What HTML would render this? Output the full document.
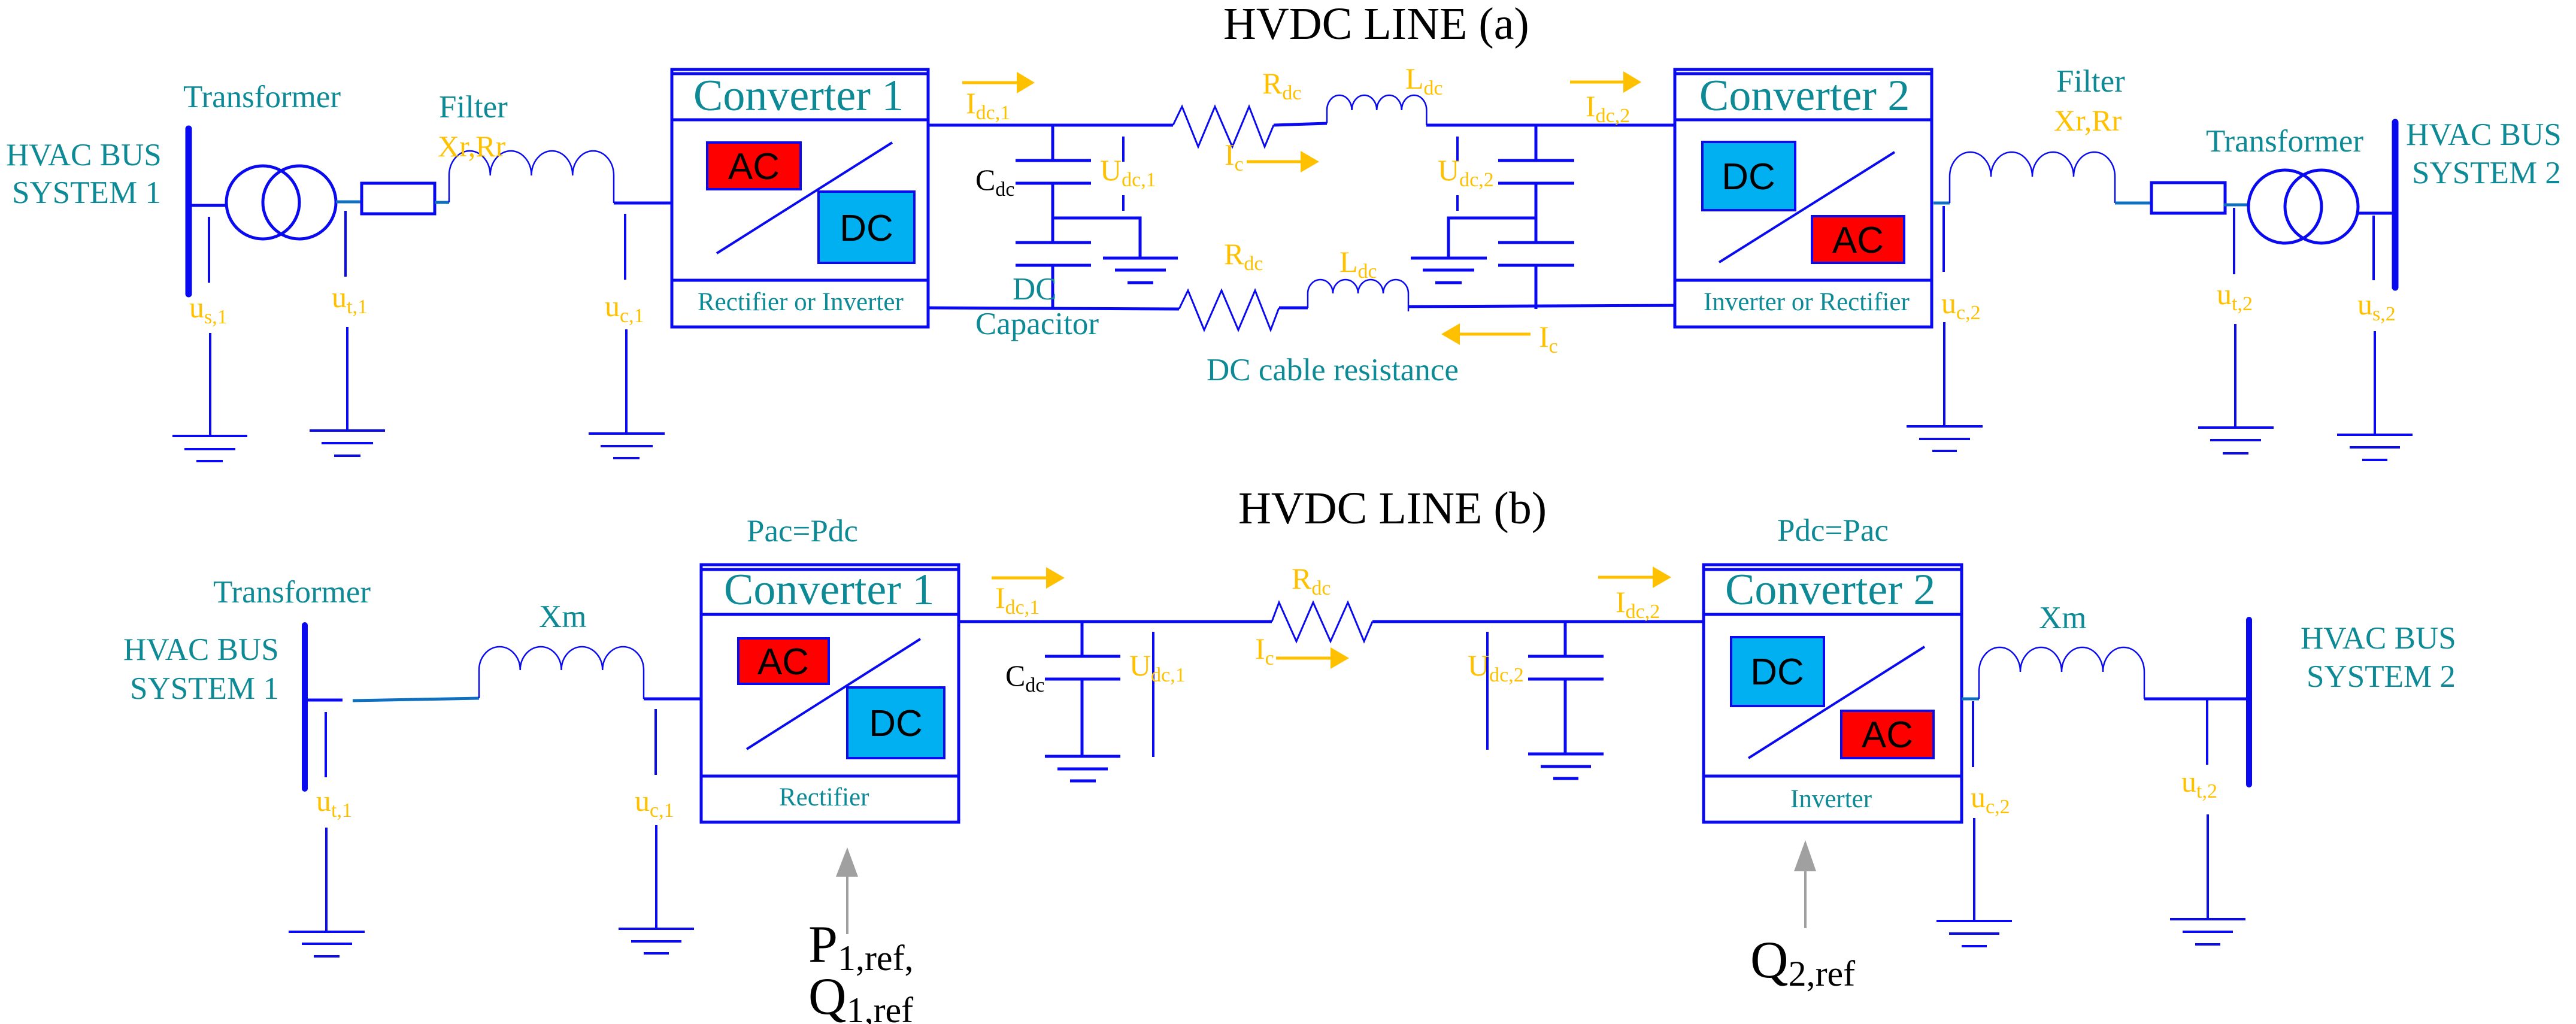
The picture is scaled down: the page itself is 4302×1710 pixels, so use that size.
<!DOCTYPE html>
<html><head><meta charset="utf-8"><style>
html,body{margin:0;padding:0;background:#fff}
svg{display:block}
text{font-family:"Liberation Serif",serif}
.t{fill:#0e8a96;font-size:53px}
.o{fill:#ffc000;font-size:50px}
.k{fill:#000}
.cv{fill:#0e8a96;font-size:74px}
.sm{fill:#0e8a96;font-size:43px}
.ad{font-family:"Liberation Sans",sans-serif;font-size:62px;fill:#000;text-anchor:middle}
.b{stroke:#0a0af0;fill:none}
</style></head><body>
<svg width="4302" height="1710" viewBox="0 0 4302 1710" xmlns="http://www.w3.org/2000/svg">
<g class="b" stroke-width="5">
<!-- ===== (a) left AC side ===== -->
<line x1="315" y1="215" x2="315" y2="491" stroke-width="11" stroke-linecap="round"/>
<line x1="315" y1="343" x2="378" y2="343"/>
<circle cx="439" cy="338" r="61"/><circle cx="500" cy="338" r="61"/>
<line x1="561" y1="337" x2="604" y2="337" stroke="#1070c0"/>
<rect x="604" y="306" width="122" height="51"/>
<line x1="726" y1="338" x2="750" y2="338" stroke="#1070c0"/>
<path d="M750 338 V293 a34.375 41 0 0 1 68.75 0 a34.375 41 0 0 1 68.75 0 a34.375 41 0 0 1 68.75 0 a34.375 41 0 0 1 68.75 0 V339" stroke-width="2.5"/>
<line x1="1025" y1="339" x2="1122" y2="339"/>
<line x1="349" y1="362" x2="349" y2="472" stroke-width="4"/>
<line x1="577" y1="352" x2="577" y2="462" stroke-width="4"/>
<line x1="1044" y1="357" x2="1044" y2="467" stroke-width="4"/>
<!-- grounds -->
<path d="M351 556V728 M288 728H413 M308 750H393 M328 770H372" stroke-width="4"/>
<path d="M580 546V719 M517 719H643 M537 740H623 M558 761H602" stroke-width="4"/>
<path d="M1046 550V724 M983 724H1110 M1003 745H1090 M1024 765H1068" stroke-width="4"/>
<!-- converter 1 (a) -->
<rect x="1122" y="116" width="428" height="430"/>
<line x1="1122" y1="123" x2="1550" y2="123"/>
<line x1="1122" y1="200" x2="1550" y2="200"/>
<line x1="1122" y1="468" x2="1550" y2="468"/>
<line x1="1197" y1="423" x2="1490" y2="238" stroke-width="4"/>
<!-- DC link (a) -->
<line x1="1550" y1="209" x2="1959" y2="209"/>
<polyline points="1959,209 1974,178 2001,245 2029,178 2058,245 2086,178 2112,245 2127,209" stroke-width="3"/>
<line x1="2127" y1="209" x2="2216" y2="206"/>
<path d="M2216 206 V184 a20.8 25 0 0 1 41.6 0 a20.8 25 0 0 1 41.6 0 a20.8 25 0 0 1 41.6 0 a20.8 25 0 0 1 41.6 0 V209" stroke-width="2.5"/>
<line x1="2382" y1="209" x2="2797" y2="209"/>
<line x1="1550" y1="514" x2="1969" y2="516"/>
<polyline points="1969,516 1984,485 2011,551 2040,485 2068,551 2096,485 2122,551 2136,514" stroke-width="3"/>
<line x1="2136" y1="514" x2="2184" y2="514"/>
<path d="M2184 514 V490 a21 23 0 0 1 42 0 a21 23 0 0 1 42 0 a21 23 0 0 1 42 0 a21 23 0 0 1 42 0 V520" stroke-width="2.5"/>
<line x1="2352" y1="512" x2="2797" y2="510"/>
<!-- caps stack 1 -->
<path d="M1758 209V268 M1696 268H1822 M1696 306H1822 M1758 306V405 M1696 405H1822 M1696 443H1822 M1758 443V516 M1758 364H1904V431 M1842 431H1967 M1862 451H1947 M1883 472H1926"/>
<path d="M1876 228V270 M1876 326V352" stroke-width="4"/>
<path d="M2565 209V268 M2502 268H2629 M2502 306H2629 M2565 306V405 M2502 405H2629 M2502 443H2629 M2565 443V516 M2565 364H2419V431 M2356 431H2483 M2376 451H2462 M2397 472H2441"/>
<path d="M2434 228V270 M2434 326V352" stroke-width="4"/>
<!-- converter 2 (a) -->
<rect x="2797" y="116" width="429" height="430"/>
<line x1="2797" y1="123" x2="3226" y2="123"/>
<line x1="2797" y1="200" x2="3226" y2="200"/>
<line x1="2797" y1="468" x2="3226" y2="468"/>
<line x1="2871" y1="438" x2="3164" y2="254" stroke-width="4"/>
<!-- (a) right AC side -->
<line x1="3229" y1="339" x2="3256" y2="339" stroke="#1070c0"/>
<path d="M3256 339 V295 a34.5 41 0 0 1 69 0 a34.5 41 0 0 1 69 0 a34.5 41 0 0 1 69 0 a34.5 41 0 0 1 69 0 V339" stroke-width="2.5"/>
<line x1="3532" y1="339" x2="3593" y2="339" stroke="#1070c0"/>
<rect x="3593" y="305" width="123" height="51"/>
<line x1="3714" y1="342" x2="3755" y2="342" stroke="#1070c0"/>
<circle cx="3816" cy="345" r="61"/><circle cx="3877" cy="345" r="61"/>
<line x1="3938" y1="356" x2="4000" y2="356"/>
<line x1="4000" y1="204" x2="4000" y2="480" stroke-width="11" stroke-linecap="round"/>
<line x1="3246" y1="344" x2="3246" y2="454" stroke-width="4"/>
<line x1="3731" y1="347" x2="3731" y2="458" stroke-width="4"/>
<line x1="3964" y1="360" x2="3964" y2="468" stroke-width="4"/>
<path d="M3247 538V712 M3184 712H3311 M3205 733H3290 M3227 753H3268" stroke-width="4"/>
<path d="M3733 541V714 M3671 714H3797 M3691 735H3776 M3712 757H3755" stroke-width="4"/>
<path d="M3966 553V726 M3903 726H4029 M3924 747H4008 M3945 768H3987" stroke-width="4"/>

<!-- ===== (b) ===== -->
<line x1="509" y1="1044" x2="509" y2="1317" stroke-width="10" stroke-linecap="round"/>
<line x1="509" y1="1169" x2="572" y2="1169"/>
<line x1="589" y1="1170" x2="800" y2="1166" stroke="#1070c0"/>
<path d="M800 1166 V1119 a34.375 39 0 0 1 68.75 0 a34.375 39 0 0 1 68.75 0 a34.375 39 0 0 1 68.75 0 a34.375 39 0 0 1 68.75 0 V1167" stroke-width="2.5"/>
<line x1="1075" y1="1167" x2="1171" y2="1167"/>
<line x1="544" y1="1189" x2="544" y2="1298" stroke-width="4"/>
<line x1="1095" y1="1184" x2="1095" y2="1294" stroke-width="4"/>
<path d="M545 1382V1556 M482 1556H609 M504 1576H588 M524 1597H567" stroke-width="4"/>
<path d="M1096 1378V1551 M1033 1551H1159 M1054 1572H1138 M1075 1592H1117" stroke-width="4"/>
<rect x="1171" y="943" width="430" height="430"/>
<line x1="1171" y1="951" x2="1601" y2="951"/>
<line x1="1171" y1="1026" x2="1601" y2="1026"/>
<line x1="1171" y1="1296" x2="1601" y2="1296"/>
<line x1="1247" y1="1251" x2="1537" y2="1067" stroke-width="4"/>
<line x1="1601" y1="1038" x2="2124" y2="1038"/>
<polyline points="2124,1038 2136,1006 2165,1071 2193,1006 2222,1071 2251,1006 2278,1071 2292,1038" stroke-width="3"/>
<line x1="2292" y1="1038" x2="2845" y2="1038"/>
<path d="M1807 1038V1096 M1745 1096H1871 M1745 1134H1871 M1807 1134V1263 M1745 1263H1871 M1766 1284H1850 M1787 1304H1830"/>
<line x1="1926" y1="1055" x2="1926" y2="1264" stroke-width="4"/>
<path d="M2614 1038V1096 M2552 1096H2678 M2552 1134H2678 M2614 1134V1259 M2552 1259H2678 M2573 1280H2657 M2594 1300H2636"/>
<line x1="2484" y1="1055" x2="2484" y2="1252" stroke-width="4"/>
<rect x="2845" y="943" width="431" height="430"/>
<line x1="2845" y1="951" x2="3276" y2="951"/>
<line x1="2845" y1="1026" x2="3276" y2="1026"/>
<line x1="2845" y1="1296" x2="3276" y2="1296"/>
<line x1="2920" y1="1266" x2="3214" y2="1080" stroke-width="4"/>
<line x1="3276" y1="1167" x2="3305" y2="1167" stroke="#1070c0"/>
<path d="M3305 1167 V1122 a34.5 41 0 0 1 69 0 a34.5 41 0 0 1 69 0 a34.5 41 0 0 1 69 0 a34.5 41 0 0 1 69 0 V1167" stroke-width="2.5"/>
<line x1="3581" y1="1167" x2="3756" y2="1167"/>
<line x1="3756" y1="1035" x2="3756" y2="1310" stroke-width="10" stroke-linecap="round"/>
<line x1="3295" y1="1171" x2="3295" y2="1281" stroke-width="4"/>
<line x1="3686" y1="1167" x2="3686" y2="1277" stroke-width="4"/>
<path d="M3297 1366V1538 M3234 1538H3360 M3255 1559H3339 M3276 1580H3318" stroke-width="4"/>
<path d="M3687 1360V1535 M3624 1535H3750 M3645 1556H3729 M3666 1577H3708" stroke-width="4"/>
</g>
<!-- coloured boxes -->
<g stroke="#0a0af0" stroke-width="4">
<rect x="1181" y="238" width="156" height="78" fill="#ff0000"/>
<rect x="1367" y="320" width="160" height="119" fill="#00b0f0"/>
<rect x="2843" y="237" width="155" height="114" fill="#00b0f0"/>
<rect x="3026" y="361" width="154" height="78" fill="#ff0000"/>
<rect x="1233" y="1066" width="151" height="76" fill="#ff0000"/>
<rect x="1415" y="1148" width="162" height="118" fill="#00b0f0"/>
<rect x="2891" y="1064" width="155" height="115" fill="#00b0f0"/>
<rect x="3075" y="1187" width="154" height="79" fill="#ff0000"/>
</g>
<text class="ad" x="1259" y="299">AC</text>
<text class="ad" x="1447" y="402">DC</text>
<text class="ad" x="2920" y="316">DC</text>
<text class="ad" x="3103" y="422">AC</text>
<text class="ad" x="1308" y="1126">AC</text>
<text class="ad" x="1496" y="1229">DC</text>
<text class="ad" x="2968" y="1143">DC</text>
<text class="ad" x="3152" y="1248">AC</text>
<!-- orange arrows -->
<g stroke="#ffc000" stroke-width="5" fill="#ffc000">
<line x1="1607" y1="138" x2="1705" y2="138"/><polygon points="1698,120 1728,138 1698,156" stroke="none"/>
<line x1="2082" y1="270" x2="2180" y2="270"/><polygon points="2172,252 2203,270 2172,288" stroke="none"/>
<line x1="2622" y1="137" x2="2718" y2="137"/><polygon points="2711,119 2741,137 2711,155" stroke="none"/>
<line x1="2556" y1="558" x2="2430" y2="558"/><polygon points="2438,540 2407,558 2438,576" stroke="none"/>
<line x1="1656" y1="965" x2="1755" y2="965"/><polygon points="1747,947 1778,965 1747,983" stroke="none"/>
<line x1="2131" y1="1099" x2="2230" y2="1099"/><polygon points="2222,1081 2253,1099 2222,1117" stroke="none"/>
<line x1="2669" y1="964" x2="2768" y2="964"/><polygon points="2760,946 2791,964 2760,982" stroke="none"/>
</g>
<!-- gray arrows -->
<g stroke="#a0a0a0" stroke-width="4" fill="#a0a0a0">
<line x1="1415" y1="1560" x2="1415" y2="1460"/><polygon points="1396,1464 1415,1415 1433,1464" stroke="none"/>
<line x1="3015" y1="1550" x2="3015" y2="1450"/><polygon points="2996,1455 3015,1403 3033,1455" stroke="none"/>
</g>
<!-- texts (a) -->
<text class="k" x="2043" y="65" font-size="76">HVDC LINE (a)</text>
<text class="t" x="306" y="179">Transformer</text>
<text class="t" x="10" y="276">HVAC BUS</text>
<text class="t" x="20" y="339">SYSTEM 1</text>
<text class="t" x="733" y="196">Filter</text>
<text class="o" x="731" y="261">Xr,Rr</text>
<text class="cv" x="1158" y="184">Converter 1</text>
<text class="sm" x="1165" y="518">Rectifier or Inverter</text>
<text class="o" x="316" y="530">u<tspan font-size="34" dy="10">s,1</tspan></text>
<text class="o" x="554" y="513">u<tspan font-size="34" dy="10">t,1</tspan></text>
<text class="o" x="1010" y="528">u<tspan font-size="34" dy="10">c,1</tspan></text>
<text class="o" x="1613" y="189">I<tspan font-size="34" dy="10">dc,1</tspan></text>
<text class="o" x="2108" y="156">R<tspan font-size="34" dy="10">dc</tspan></text>
<text class="o" x="2347" y="148">L<tspan font-size="34" dy="10">dc</tspan></text>
<text class="o" x="2045" y="275">I<tspan font-size="34" dy="10">c</tspan></text>
<text class="o" x="1837" y="301">U<tspan font-size="34" dy="10">dc,1</tspan></text>
<text class="k" x="1629" y="317" font-size="50">C<tspan font-size="34" dy="10">dc</tspan></text>
<text class="t" x="1691" y="500">DC</text>
<text class="t" x="1629" y="558">Capacitor</text>
<text class="o" x="2044" y="441">R<tspan font-size="34" dy="10">dc</tspan></text>
<text class="o" x="2237" y="454">L<tspan font-size="34" dy="10">dc</tspan></text>
<text class="o" x="2570" y="579">I<tspan font-size="34" dy="10">c</tspan></text>
<text class="t" x="2015" y="635">DC cable resistance</text>
<text class="o" x="2401" y="301">U<tspan font-size="34" dy="10">dc,2</tspan></text>
<text class="o" x="2648" y="194">I<tspan font-size="34" dy="10">dc,2</tspan></text>
<text class="cv" x="2838" y="184">Converter 2</text>
<text class="sm" x="2845" y="518">Inverter or Rectifier</text>
<text class="t" x="3434" y="153">Filter</text>
<text class="o" x="3430" y="218">Xr,Rr</text>
<text class="t" x="3684" y="253">Transformer</text>
<text class="t" x="4018" y="242">HVAC BUS</text>
<text class="t" x="4028" y="306">SYSTEM 2</text>
<text class="o" x="3242" y="523">u<tspan font-size="34" dy="10">c,2</tspan></text>
<text class="o" x="3702" y="508">u<tspan font-size="34" dy="10">t,2</tspan></text>
<text class="o" x="3937" y="525">u<tspan font-size="34" dy="10">s,2</tspan></text>
<!-- texts (b) -->
<text class="k" x="2068" y="874" font-size="76">HVDC LINE (b)</text>
<text class="t" x="356" y="1006">Transformer</text>
<text class="t" x="206" y="1102">HVAC BUS</text>
<text class="t" x="217" y="1167">SYSTEM 1</text>
<text class="t" x="900" y="1047">Xm</text>
<text class="t" x="1247" y="904">Pac=Pdc</text>
<text class="cv" x="1209" y="1009">Converter 1</text>
<text class="sm" x="1301" y="1345">Rectifier</text>
<text class="o" x="528" y="1354">u<tspan font-size="34" dy="10">t,1</tspan></text>
<text class="o" x="1060" y="1354">u<tspan font-size="34" dy="10">c,1</tspan></text>
<text class="k" x="1350" y="1606" font-size="88">P<tspan font-size="60" dy="14">1,ref,</tspan></text>
<text class="k" x="1350" y="1693" font-size="88">Q<tspan font-size="60" dy="14">1,ref</tspan></text>
<text class="o" x="1662" y="1015">I<tspan font-size="34" dy="10">dc,1</tspan></text>
<text class="k" x="1679" y="1145" font-size="50">C<tspan font-size="34" dy="10">dc</tspan></text>
<text class="o" x="1886" y="1128">U<tspan font-size="34" dy="10">dc,1</tspan></text>
<text class="o" x="2157" y="983">R<tspan font-size="34" dy="10">dc</tspan></text>
<text class="o" x="2096" y="1100">I<tspan font-size="34" dy="10">c</tspan></text>
<text class="o" x="2451" y="1128">U<tspan font-size="34" dy="10">dc,2</tspan></text>
<text class="o" x="2698" y="1022">I<tspan font-size="34" dy="10">dc,2</tspan></text>
<text class="t" x="2968" y="903">Pdc=Pac</text>
<text class="cv" x="2881" y="1009">Converter 2</text>
<text class="sm" x="2990" y="1348">Inverter</text>
<text class="t" x="3405" y="1049">Xm</text>
<text class="t" x="3842" y="1083">HVAC BUS</text>
<text class="t" x="3852" y="1147">SYSTEM 2</text>
<text class="o" x="3291" y="1348">u<tspan font-size="34" dy="10">c,2</tspan></text>
<text class="o" x="3643" y="1322">u<tspan font-size="34" dy="10">t,2</tspan></text>
<text class="k" x="2923" y="1632" font-size="88">Q<tspan font-size="60" dy="14">2,ref</tspan></text>
</svg>
</body></html>
